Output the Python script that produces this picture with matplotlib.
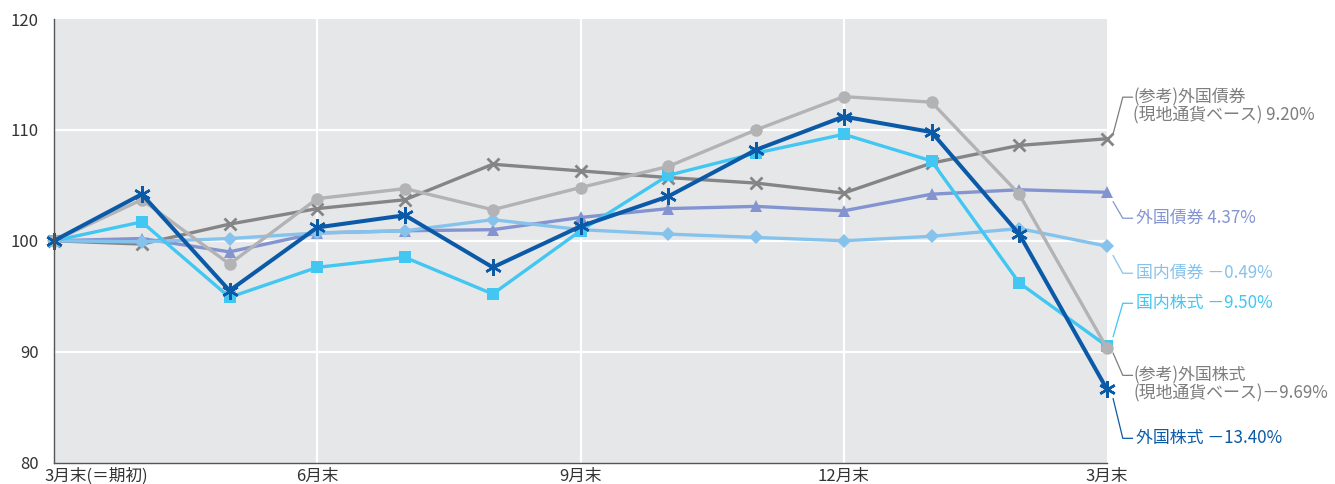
import matplotlib
matplotlib.use("Agg")
import matplotlib.pyplot as plt
import matplotlib.transforms as mtransforms

plt.rcParams['font.family'] = ['Noto Sans CJK JP', 'DejaVu Sans']

# Month index: 0 = March end (start of period) ... 12 = following March end
months = list(range(13))
tick_pos = [0, 3, 6, 9, 12]
tick_labels = ["3月末(＝期初)", "6月末", "9月末", "12月末", "3月末"]
y_ticks = [80, 90, 100, 110, 120]

foreign_bond_local = [100, 99.7, 101.5, 102.9, 103.7, 106.9, 106.3, 105.7, 105.2, 104.3, 107.0, 108.6, 109.20]
foreign_bond = [100, 100.2, 99.0, 100.7, 100.9, 101.0, 102.1, 102.9, 103.1, 102.7, 104.2, 104.6, 104.37]
domestic_bond = [100, 99.9, 100.2, 100.7, 100.9, 101.9, 101.0, 100.6, 100.3, 100.0, 100.4, 101.1, 99.51]
domestic_equity = [100, 101.7, 94.9, 97.6, 98.5, 95.2, 100.9, 105.9, 107.9, 109.6, 107.2, 96.2, 90.50]
foreign_equity_local = [100, 103.7, 97.9, 103.8, 104.7, 102.8, 104.8, 106.7, 110.0, 113.0, 112.5, 104.2, 90.31]
foreign_equity = [100, 104.2, 95.5, 101.2, 102.3, 97.6, 101.3, 104.0, 108.2, 111.2, 109.8, 100.6, 86.60]

series_names = [
    "(参考)外国債券\n(現地通貨ベース) 9.20%",
    "外国債券 4.37%",
    "国内債券 －0.49%",
    "国内株式 －9.50%",
    "(参考)外国株式\n(現地通貨ベース)－9.69%",
    "外国株式 －13.40%",
]

# (values, line color, label color, marker, markersize, linewidth, label y)
series = [
    (foreign_bond_local, "#858587", "#7D7D7F", "x", 8, 2.4, 112.95),
    (foreign_bond, "#8494D0", "#8494D0", "^", 9, 2.4, 102.03),
    (domestic_bond, "#86C3EC", "#86C3EC", "D", 7, 2.4, 97.07),
    (domestic_equity, "#42C6F2", "#42C6F2", "s", 9, 2.4, 94.36),
    (foreign_equity_local, "#B3B3B5", "#7D7D7F", "o", 9, 2.4, 87.86),
    (foreign_equity, "#0B5AA8", "#0B5AA8", (6, 2, 0), 12, 2.9, 82.18),
]

fig = plt.figure(figsize=(13.35, 4.84), dpi=100)
ax = fig.add_axes([54 / 1335, (484 - 462.5) / 484, (1107 - 54) / 1335, (462.5 - 19) / 484])
ax.set_facecolor("#E6E7E9")
ax.set_xlim(0, 12)
ax.set_ylim(80, 120)

for y in [90, 100, 110]:
    ax.axhline(y, color="white", lw=1.6, zorder=1)
for x in [3, 6, 9]:
    ax.axvline(x, color="white", lw=1.6, zorder=1)

label_size = 12.2
for i, ((vals, col, tcol, mk, ms, lw, ly), name) in enumerate(zip(series, series_names)):
    two = "\n" in name
    mew = 2.0 if mk == "x" else (1.8 if isinstance(mk, tuple) else 0)
    ax.plot(months, vals, color=col, lw=lw, marker=mk, markersize=ms,
            markeredgewidth=mew, markeredgecolor=col, markerfacecolor=col,
            zorder=3 + i, clip_on=False)
    end = vals[-1]
    direction = 1 if ly > end else -1
    start_y = end + direction * (0.45 if two else 0.85)
    ax.plot([12.07, 12.18, 12.29], [start_y, ly, ly], color=tcol, lw=0.9,
            clip_on=False, zorder=2)
    if two:
        first_line, second_line = name.split("\n")
        ax.text(12.30, ly, first_line, color=tcol, fontsize=label_size, ha="left",
                va="center", clip_on=False)
        ax.text(12.30, ly - 1.65, second_line, color=tcol, fontsize=label_size, ha="left",
                va="center", clip_on=False)
    else:
        ax.text(12.33, ly, name, color=tcol, fontsize=label_size, ha="left", va="center",
                clip_on=False)

ax.set_yticks(y_ticks)
ax.set_yticklabels([str(v) for v in y_ticks], fontsize=12, color="#333333")
ax.set_xticks(tick_pos)
ax.set_xticklabels(tick_labels, fontsize=12, color="#333333")
ax.tick_params(axis="y", length=0, pad=11)
ax.tick_params(axis="x", length=0, pad=4)

first = ax.get_xticklabels()[0]
first.set_horizontalalignment("left")
first.set_transform(first.get_transform() +
                    mtransforms.ScaledTranslation(-10 / 100, 0, fig.dpi_scale_trans))

for side in ["top", "right"]:
    ax.spines[side].set_visible(False)
for side in ["left", "bottom"]:
    ax.spines[side].set_color("#555555")
    ax.spines[side].set_linewidth(1.0)
    ax.spines[side].set_zorder(20)

fig.savefig("out.png", dpi=100)
